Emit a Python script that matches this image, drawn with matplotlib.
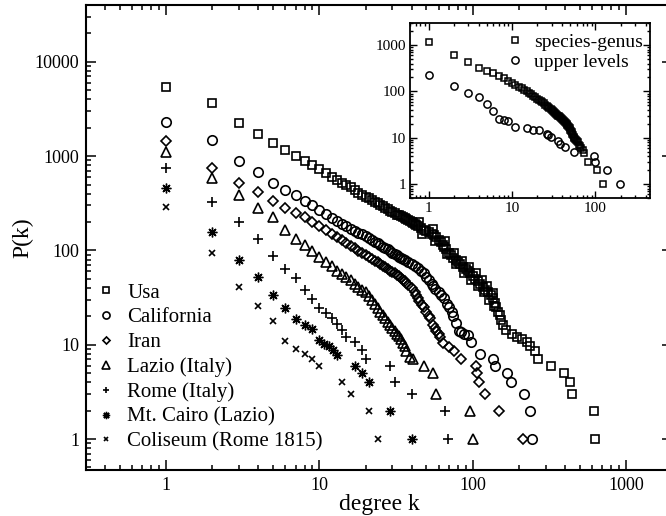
import matplotlib
matplotlib.use("Agg")
import matplotlib.pyplot as plt
from matplotlib.ticker import LogLocator, NullFormatter

plt.rcParams['font.family'] = ['Liberation Serif', 'DejaVu Serif']

# main panel: P(k) for the different data sets
usa_k = [1, 2, 3, 4, 5, 6, 7, 8, 9, 10, 11, 12, 13, 14, 15, 16, 17, 18, 19, 20,
         21, 22, 23, 24, 25, 26, 27, 28, 29, 30, 31, 32, 33, 34, 35, 36, 37, 38, 39, 40,
         41, 42, 43, 44, 46, 48, 50, 52, 54, 56, 58, 60, 62, 64, 65, 67, 70, 72, 75, 78,
         80, 83, 87, 90, 93, 96, 100, 104, 108, 112, 117, 121, 126, 131, 136, 140, 143, 147, 150, 154,
         158, 165, 180, 194, 210, 225, 237, 254, 267, 327, 393, 430, 445, 620, 630]
usa_p = [5430, 3625, 2225, 1700, 1390, 1160, 1000, 887, 805, 730, 667, 605, 558, 515, 490, 467, 437, 403, 385, 371,
         356, 343, 330, 318, 306, 295, 285, 275, 264, 254, 247, 240, 235, 230, 225, 219, 213, 208, 203, 199,
         194, 190, 185, 180, 172, 165, 160, 155, 150, 145, 138, 130, 122, 114, 110, 104, 95, 90, 83, 79,
         76, 72, 67, 63, 60, 57, 53, 50, 47, 44, 41, 38.5, 36, 33.5, 31, 28, 25, 22.5, 20.7, 18.4,
         16.2, 14.4, 13, 12.2, 11.5, 10.8, 9.6, 8.5, 7, 6, 5, 4, 3, 2, 1]
# upper / lower edge of the thick Usa band
usa_edge_k = [45, 55, 66, 76, 85, 95, 105, 115, 125, 135, 47, 57, 68, 78, 88, 98, 108, 118, 128, 138]
usa_edge_p = [200, 170, 125, 95, 78, 66, 57, 49, 42, 35, 150, 125, 92, 71, 58, 49, 42, 36, 30, 26]

cal_k = [1, 2, 3, 4, 5, 6, 7, 8, 9, 10, 11, 12, 13, 14, 15, 16, 17, 18, 19, 20,
         21, 22, 23, 24, 25, 26, 27, 28, 29, 30, 31, 32, 33, 34, 35, 36, 38, 40, 42, 44,
         46, 48, 50, 52, 54, 55, 57, 60, 62, 65, 68, 70, 73, 75, 78, 81, 84, 88, 93, 97,
         112, 136, 141, 168, 178, 216, 237, 245]
cal_p = [2312, 1482, 894, 674, 515, 440, 385, 335, 300, 270, 245, 222, 205, 192, 180, 170, 162, 154, 148, 142,
         135, 128, 124, 120, 115, 110, 107, 104, 99, 95, 92, 89, 86, 84, 82, 80, 76, 72, 68, 65,
         61, 57, 52, 48, 44, 42, 39, 36, 34, 31, 27, 25, 22, 20, 17, 14, 13.5, 13, 12.7, 10.8,
         8, 7, 6, 5, 4, 3, 2, 1]

iran_k = [1, 2, 3, 4, 5, 6, 7, 8, 9, 10, 11, 12, 13, 14, 15, 16, 17, 18, 19, 20,
          21, 22, 23, 24, 25, 26, 27, 28, 29, 30, 31, 32, 33, 34, 35, 36, 37, 38, 40, 42,
          43, 44, 45, 47, 48, 50, 52, 53, 55, 57, 58, 60, 61, 64, 70, 76, 84, 105, 107, 110,
          121, 148, 214]
iran_p = [1445, 743, 523, 414, 334, 280, 248, 225, 202, 180, 165, 150, 138, 128, 119, 112, 105, 99, 94, 89,
          85, 81, 78, 75, 72, 69, 66, 63, 61, 59, 57, 55, 53, 51, 49, 47, 45, 43, 40, 36,
          34, 31.5, 29, 26.5, 25, 22, 20, 19, 16, 15, 14, 13, 12, 10.5, 9.5, 8.5, 7, 6, 5, 4,
          3, 2, 1]

lazio_k = [1, 2, 3, 4, 5, 6, 7, 8, 9, 10, 11, 12, 13, 14, 15, 16, 17, 18, 19, 20,
           21, 22, 23, 24, 25, 26, 27, 28, 29, 30, 31, 32, 33, 34, 35, 36, 37, 39, 41, 48,
           55, 58, 96, 100]
lazio_p = [1113, 590, 387, 280, 228, 166, 132, 114, 98, 85, 75, 68, 61, 56, 52, 48, 44, 41, 38.5, 36,
           33, 30, 27, 24.5, 22.5, 20.5, 19, 17.5, 16, 15, 14, 13, 12.5, 11.5, 10.5, 9.6, 8.5, 7.5, 7, 6,
           5, 3, 2, 1]

rome_k = [1, 2, 3, 4, 5, 6, 7, 8, 9, 10, 11, 12, 13, 14, 15, 17, 19, 20, 29, 31, 40, 66, 69]
rome_p = [754, 329, 199, 131, 87.5, 63, 51, 38, 30.5, 24.4, 21.6, 19.1, 16.6, 14.4, 12, 10.8, 8.8, 7, 6, 4, 3, 2, 1]

cairo_k = [1, 2, 3, 4, 5, 6, 7, 8, 9, 10, 10.8, 11.5, 12.3, 13, 17, 19, 21, 29, 40]
cairo_p = [456, 158, 79.5, 52.7, 33.8, 24.6, 18.7, 16, 14.8, 11.2, 10.3, 9.6, 8.8, 7.8, 6, 5, 4, 2, 1]

colis_k = [1, 2, 3, 4, 5, 6, 7, 8, 9, 10, 14, 16, 21, 24]
colis_p = [291, 95, 40.6, 25.6, 17.9, 11, 9, 8, 7, 6, 4, 3, 2, 1]

# inset: taxonomic levels
sg_k = [1, 2, 3, 4, 5, 6, 7, 8, 9, 10, 11, 12, 13, 14, 15, 16, 17, 18, 19, 20,
        21, 22, 23, 24, 25, 26, 27, 28, 29, 30, 31, 32, 33, 34, 35, 36, 37, 38, 39, 40,
        41, 42, 43, 44, 45, 46, 47, 48, 49, 50, 51, 52, 53, 54, 55, 56, 57, 58, 60, 62,
        64, 66, 68, 70, 73, 81, 104, 123]
sg_p = [1180, 610, 425, 325, 282, 248, 217, 195, 172, 150, 136, 125, 116, 107, 100, 93, 87, 81, 76, 70,
        65, 62, 58, 55, 52, 49, 46, 44, 42, 40, 38, 36, 34.5, 33, 31.5, 30, 29, 28, 27, 26,
        24.5, 23, 22, 21, 20, 19, 18, 17, 16, 15, 14, 13, 12, 11.3, 10.5, 9.8, 9.3, 9, 8.5, 7.9,
        7, 6.5, 6, 5.5, 4.8, 3, 2, 1]

up_k = [1, 2, 3, 4, 5, 6, 7, 8, 9, 11, 15, 18, 21, 26, 27, 29, 36, 38, 43, 55, 96, 99, 139, 197]
up_p = [229, 128, 92, 75, 53, 38, 26, 24, 22.5, 17.4, 16, 14.5, 14.5, 12, 11.5, 10.2, 8.3, 7.4, 6.3, 5, 4, 3, 2, 1]

main_xticks = [1, 10, 100, 1000]
main_yticks = [1, 10, 100, 1000, 10000]
inset_xticks = [1, 10, 100]
inset_yticks = [1, 10, 100, 1000]

star = (8, 2, 0)
main_series = [
    (usa_k + usa_edge_k, usa_p + usa_edge_p, 's', 6.3, 1.2, 'Usa'),
    (cal_k, cal_p, 'o', 6.8, 1.2, 'California'),
    (iran_k, iran_p, 'D', 4.8, 1.2, 'Iran'),
    (lazio_k, lazio_p, '^', 7.0, 1.2, 'Lazio (Italy)'),
    (rome_k, rome_p, '+', 6.5, 1.2, 'Rome (Italy)'),
    (cairo_k, cairo_p, star, 7.0, 1.0, 'Mt. Cairo (Lazio)'),
    (colis_k, colis_p, 'x', 4.8, 1.2, 'Coliseum (Rome 1815)'),
]

W, H = 666, 516
fig = plt.figure(figsize=(W / 100, H / 100), dpi=100)

# main axes runs slightly past the right edge of the picture, like the original
ax = fig.add_axes([86 / W, 1 - 470 / H, (672 - 86) / W, (470 - 5) / H])
for k, p, m, ms, mew, lab in main_series:
    ax.plot(k, p, ls='none', marker=m, ms=ms, mfc='none', mec='black', mew=mew, label=lab)

ax.set_xscale('log')
ax.set_yscale('log')
ax.set_xlim(0.3, 2000)
ax.set_ylim(0.47, 40000)
ax.set_xticks(main_xticks, [str(t) for t in main_xticks])
ax.set_yticks(main_yticks, [str(t) for t in main_yticks])
for a in (ax.xaxis, ax.yaxis):
    a.set_minor_locator(LogLocator(base=10, subs=range(2, 10)))
    a.set_minor_formatter(NullFormatter())
ax.tick_params(which='both', direction='in', top=True, right=True, width=1.1)
ax.tick_params(which='major', length=7, labelsize=13, pad=5)
ax.tick_params(which='minor', length=3.5)
for s in ax.spines.values():
    s.set_linewidth(1.5)
ax.set_xlabel('degree k', fontsize=17, labelpad=0)
ax.set_ylabel('P(k)', fontsize=17, labelpad=1)

ax.legend(loc='upper left', bbox_to_anchor=(96 / W, 1 - 283 / H), bbox_transform=fig.transFigure,
          frameon=False, fontsize=15, handlelength=1.0, handletextpad=0.5, labelspacing=0.25,
          borderpad=0, borderaxespad=0, markerscale=0.75)

# inset
ins = fig.add_axes([410 / W, 1 - 198 / H, 240 / W, (198 - 23) / H])
ins.plot(sg_k, sg_p, ls='none', marker='s', ms=4.8, mfc='none', mec='black', mew=1.1, label='species-genus')
ins.plot(up_k, up_p, ls='none', marker='o', ms=5.2, mfc='none', mec='black', mew=1.1, label='upper levels')
ins.set_xscale('log')
ins.set_yscale('log')
ins.set_xlim(0.6, 450)
ins.set_ylim(0.5, 3000)
ins.set_xticks(inset_xticks, [str(t) for t in inset_xticks])
ins.set_yticks(inset_yticks, [str(t) for t in inset_yticks])
for a in (ins.xaxis, ins.yaxis):
    a.set_minor_locator(LogLocator(base=10, subs=range(2, 10)))
    a.set_minor_formatter(NullFormatter())
ins.tick_params(which='both', direction='in', top=True, right=True, width=1.0)
ins.tick_params(which='major', length=5, labelsize=11, pad=3)
ins.tick_params(which='minor', length=2.5)
for s in ins.spines.values():
    s.set_linewidth(1.3)
ins.legend(loc='upper right', bbox_to_anchor=(643 / W, 1 - 33 / H), bbox_transform=fig.transFigure,
           frameon=False, fontsize=14, handlelength=1.0, handletextpad=0.5, labelspacing=0.15,
           borderpad=0, borderaxespad=0, markerscale=1.0)

fig.savefig('out.png', dpi=100)
